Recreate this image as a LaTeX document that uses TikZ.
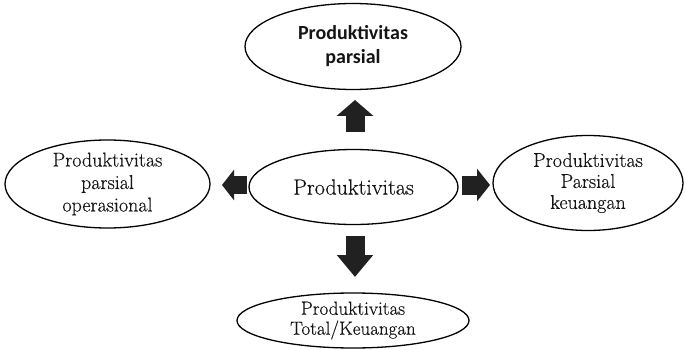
\documentclass[tikz,border=0pt]{standalone}
\usepackage{fontspec}
\setmainfont{Latin Modern Roman}[FakeBold=0.35,AutoFakeBold=0]
\newfontfamily\serifdark{Latin Modern Roman}[FakeBold=0.35]
\newfontfamily\calib{Carlito}
\usetikzlibrary{shapes.geometric,arrows.meta}
\tikzset{
  oval/.style={ellipse,draw=black,line width=1.3pt,inner sep=0pt},
  txt/.style={align=center,inner sep=0pt,text=black!92},
  blk/.style={black!87,line cap=butt},
}
\begin{document}
\begin{tikzpicture}[x=1pt,y=-1pt]
\useasboundingbox (0,0) rectangle (685,350);
% ellipses
\node[oval,minimum width=216pt,minimum height=86pt] (top) at (353,46.5) {};
\node[oval,minimum width=209pt,minimum height=75pt] (mid) at (353.5,187) {};
\node[oval,minimum width=205pt,minimum height=88pt] (left) at (107.5,184) {};
\node[oval,minimum width=190pt,minimum height=95pt] (right) at (588,183) {};
\node[oval,minimum width=232pt,minimum height=55pt] (bot) at (353,320.5) {};
% texts
\node[txt,font=\calib\bfseries\fontsize{20}{24}\selectfont] (toptxt) at (top) {Produktivitas\\parsial};
\node[txt,font=\serifdark\fontsize{22}{25}\selectfont] (midtxt) at (mid) {Produktivitas};
\node[txt,font=\serifdark\fontsize{20}{22.5}\selectfont] (lefttxt) at (left) {Produktivitas\\parsial\\operasional};
\node[txt,font=\serifdark\fontsize{20}{21}\selectfont] (righttxt) at (right) {Produktivitas\\Parsial\\keuangan};
\node[txt,font=\serifdark\fontsize{19}{20}\selectfont] (bottxt) at (bot) {Produktivitas\\Total/Keuangan};
% arrow end points
\coordinate (upS) at (355,132);
\coordinate (upE) at (355,100);
\coordinate (dnS) at (355,236);
\coordinate (dnE) at (355,277);
\coordinate (lfS) at (247,185);
\coordinate (lfE) at (222,185);
\coordinate (rtS) at (462,185);
\coordinate (rtE) at (490,185);
% block arrows
\draw[blk,line width=19pt,-{Triangle[length=16pt 0 0,width=36pt 0 0]}] (upS) -- (upE);
\draw[blk,line width=19pt,-{Triangle[length=22pt 0 0,width=35pt 0 0]}] (dnS) -- (dnE);
\draw[blk,line width=18pt,-{Triangle[length=12pt 0 0,width=30pt 0 0]}] (lfS) -- (lfE);
\draw[blk,line width=19pt,-{Triangle[length=13pt 0 0,width=32pt 0 0]}] (rtS) -- (rtE);
\end{tikzpicture}
\end{document}
